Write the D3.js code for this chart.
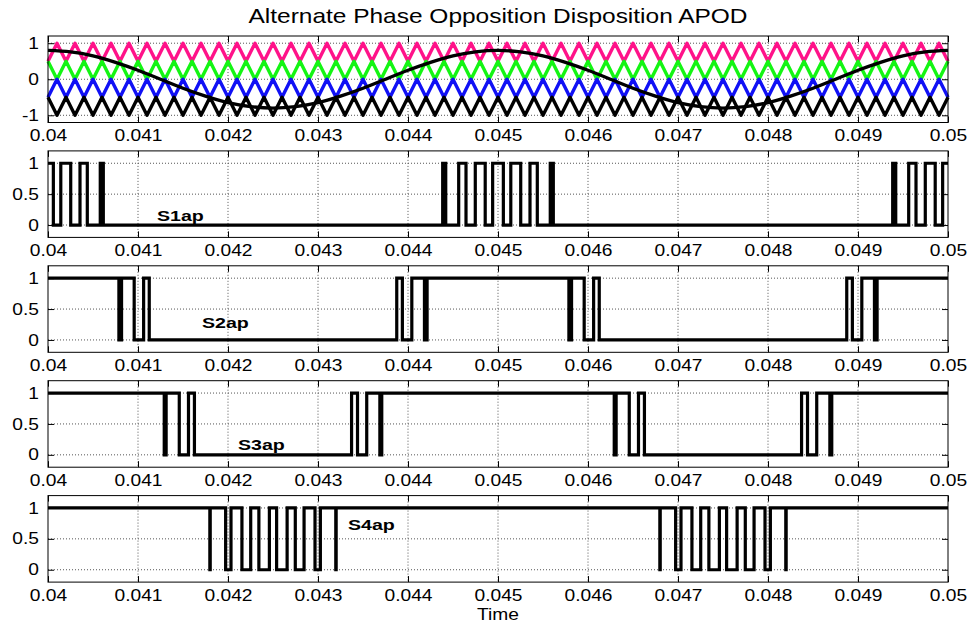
<!DOCTYPE html>
<html>
<head>
<meta charset="utf-8">
<script src="https://cdn.jsdelivr.net/npm/d3@7"></script>
<style>
  body { margin: 0; background: #fff; }
  svg { display: block; }
  text { font-family: "Liberation Sans", Arial, Helvetica, sans-serif; fill: #000; }
</style>
</head>
<body>
<div id="chart"></div>
<script>
// ---- data ----
const titleText = "Alternate Phase Opposition Disposition APOD";
const timeTicks = [0.04, 0.041, 0.042, 0.043, 0.044, 0.045, 0.046, 0.047, 0.048, 0.049, 0.05];
const timeTickLabels = ["0.04", "0.041", "0.042", "0.043", "0.044", "0.045", "0.046", "0.047", "0.048", "0.049", "0.05"];
const refTicks = [-1, 0, 1];
const switchTicks = [0, 0.5, 1];
const switchTickLabels = ["0", "0.5", "1"];

// carrier bands (high, low) and colours, top to bottom
const carrierBands = [[1, 0.5], [0.5, 0], [0, -0.5], [-0.5, -1]];
const carrierColors = ["#ff1289", "#14f514", "#1010f5", "#000000"];
// turning points of the carriers; the top one is at its valley at 0.04
const carrierTurns = [
  0.0400, 0.0401, 0.0402, 0.0403, 0.0404, 0.0405, 0.0406, 0.0407, 0.0408, 0.0409,
  0.0410, 0.0411, 0.0412, 0.0413, 0.0414, 0.0415, 0.0416, 0.0417, 0.0418, 0.0419,
  0.0420, 0.0421, 0.0422, 0.0423, 0.0424, 0.0425, 0.0426, 0.0427, 0.0428, 0.0429,
  0.0430, 0.0431, 0.0432, 0.0433, 0.0434, 0.0435, 0.0436, 0.0437, 0.0438, 0.0439,
  0.0440, 0.0441, 0.0442, 0.0443, 0.0444, 0.0445, 0.0446, 0.0447, 0.0448, 0.0449,
  0.0450, 0.0451, 0.0452, 0.0453, 0.0454, 0.0455, 0.0456, 0.0457, 0.0458, 0.0459,
  0.0460, 0.0461, 0.0462, 0.0463, 0.0464, 0.0465, 0.0466, 0.0467, 0.0468, 0.0469,
  0.0470, 0.0471, 0.0472, 0.0473, 0.0474, 0.0475, 0.0476, 0.0477, 0.0478, 0.0479,
  0.0480, 0.0481, 0.0482, 0.0483, 0.0484, 0.0485, 0.0486, 0.0487, 0.0488, 0.0489,
  0.0490, 0.0491, 0.0492, 0.0493, 0.0494, 0.0495, 0.0496, 0.0497, 0.0498, 0.0499, 0.0500];

// modulating wave samples
const sineTimes = [0.04, 0.04025, 0.0405, 0.04075, 0.041, 0.04125, 0.0415, 0.04175, 0.042, 0.04225,
  0.0425, 0.04275, 0.043, 0.04325, 0.0435, 0.04375, 0.044, 0.04425, 0.0445, 0.04475,
  0.045, 0.04525, 0.0455, 0.04575, 0.046, 0.04625, 0.0465, 0.04675, 0.047, 0.04725,
  0.0475, 0.04775, 0.048, 0.04825, 0.0485, 0.04875, 0.049, 0.04925, 0.0495, 0.04975, 0.05];
const sineValues = [0.80, 0.76, 0.65, 0.47, 0.25, 0.00, -0.25, -0.47, -0.65, -0.76,
  -0.80, -0.76, -0.65, -0.47, -0.25, 0.00, 0.25, 0.47, 0.65, 0.76,
  0.80, 0.76, 0.65, 0.47, 0.25, 0.00, -0.25, -0.47, -0.65, -0.76,
  -0.80, -0.76, -0.65, -0.47, -0.25, 0.00, 0.25, 0.47, 0.65, 0.76, 0.80];

// switching signals: starting level and the times where they toggle
const switchNames = ["S1ap", "S2ap", "S3ap", "S4ap"];
const switchStart = [1, 1, 1, 1];
const s1Edges = [0.0400595, 0.0401421, 0.0402524, 0.0403555, 0.0404367, 0.0405807, 0.0406146,
  0.0443854, 0.0444193, 0.0445633, 0.0446445, 0.0447476, 0.0448579, 0.0449405, 0.0450595,
  0.0451421, 0.0452524, 0.0453555, 0.0454367, 0.0455807, 0.0456146,
  0.0493854, 0.0494193, 0.0495633, 0.0496445, 0.0497476, 0.0498579, 0.0499405];
const s2Edges = [0.0407878, 0.0408172, 0.0409576, 0.0410625, 0.0411250,
  0.0438750, 0.0439375, 0.0440424, 0.0441828, 0.0442122,
  0.0457878, 0.0458172, 0.0459576, 0.0460625, 0.0461250,
  0.0488750, 0.0489375, 0.0490424, 0.0491828, 0.0492122];
const s3Edges = [0.0412916, 0.0413126, 0.0414586, 0.0415610, 0.0416270,
  0.0433730, 0.0434390, 0.0435414, 0.0436874, 0.0437084,
  0.0462916, 0.0463126, 0.0464586, 0.0465610, 0.0466270,
  0.0483730, 0.0484390, 0.0485414, 0.0486874, 0.0487084];
const s4Edges = [0.0417983, 0.0418024, 0.0419737, 0.0420333, 0.0421548, 0.0422523, 0.0423431, 0.0424598,
  0.0425402, 0.0426569, 0.0427477, 0.0428452, 0.0429667, 0.0430263, 0.0431976, 0.0432017,
  0.0467983, 0.0468024, 0.0469737, 0.0470333, 0.0471548, 0.0472523, 0.0473431, 0.0474598,
  0.0475402, 0.0476569, 0.0477477, 0.0478452, 0.0479667, 0.0480263, 0.0481976, 0.0482017];
const switchEdges = [s1Edges, s2Edges, s3Edges, s4Edges];
// label anchor (time, value) for each switching signal
const labelTimes = [0.041211, 0.041711, 0.042111, 0.043333];
const labelValues = [0.065, 0.2, 0.08, 0.65];

// ---- layout ----
const width = 974, height = 625;
const left = 48, right = 948;
const firstTop = 36, panelStep = 114.9, panelH = 86.5;
const font = 16, stretch = 1.2;

const svg = d3.select("#chart").append("svg")
  .attr("width", width).attr("height", height);

const x = d3.scaleLinear().domain([0.04, 0.05]).range([left, right]);

svg.append("text")
  .attr("transform", `translate(${(left + right) / 2},23) scale(${stretch},1)`)
  .attr("text-anchor", "middle")
  .style("font-size", "20.4px")
  .text(titleText);

// stretch tick text horizontally like the original figure
function stretchText(sel) {
  sel.selectAll(".tick text").each(function () {
    const t = d3.select(this);
    const tx = +t.attr("x") || 0, ty = +t.attr("y") || 0;
    t.attr("x", 0).attr("y", 0)
      .attr("transform", `translate(${tx},${ty}) scale(${stretch},1)`)
      .style("font-size", font + "px")
      .attr("fill", "#000");
  });
}

function makePanel(i, yDomain, yTicks, yLabels) {
  const top = firstTop + i * panelStep, bottom = top + panelH;
  const y = d3.scaleLinear().domain(yDomain).range([bottom, top]);
  const g = svg.append("g");

  // dotted grid
  g.append("g").selectAll("line").data(timeTicks.slice(1, -1)).join("line")
    .attr("x1", d => x(d)).attr("x2", d => x(d))
    .attr("y1", top).attr("y2", bottom)
    .attr("stroke", "#555").attr("stroke-width", 1).attr("stroke-dasharray", "1,2");
  g.append("g").selectAll("line").data(yTicks).join("line")
    .attr("x1", left).attr("x2", right)
    .attr("y1", d => y(d)).attr("y2", d => y(d))
    .attr("stroke", "#555").attr("stroke-width", 1).attr("stroke-dasharray", "1,2");

  const plot = g.append("g");

  // axes with inward ticks
  const ax = g.append("g");
  const bottomAxis = ax.append("g").attr("transform", `translate(0,${bottom})`)
    .call(d3.axisBottom(x).tickValues(timeTicks).tickFormat((d, k) => timeTickLabels[k])
      .tickSizeInner(-6).tickSizeOuter(0).tickPadding(7.5));
  stretchText(bottomAxis);
  ax.append("g").attr("transform", `translate(0,${top})`)
    .call(d3.axisTop(x).tickValues(timeTicks).tickFormat("").tickSizeInner(-6).tickSizeOuter(0));
  const leftAxis = ax.append("g").attr("transform", `translate(${left},0)`)
    .call(d3.axisLeft(y).tickValues(yTicks).tickFormat((d, k) => yLabels[k])
      .tickSizeInner(-6).tickSizeOuter(0).tickPadding(9));
  stretchText(leftAxis);
  ax.append("g").attr("transform", `translate(${right},0)`)
    .call(d3.axisRight(y).tickValues(yTicks).tickFormat("").tickSizeInner(-6).tickSizeOuter(0));
  ax.selectAll(".domain").remove();
  ax.selectAll(".tick line").attr("stroke", "#000");
  g.append("rect").attr("x", left).attr("y", top)
    .attr("width", right - left).attr("height", bottom - top)
    .attr("fill", "none").attr("stroke", "#000").attr("stroke-width", 1);

  return { plot, y };
}

// ---- panel 1: carriers and reference ----
const p1 = makePanel(0, [-1.2, 1.2], refTicks, refTicks.map(String));
const line1 = d3.line().x(d => x(d[0])).y(d => p1.y(d[1]));

carrierBands.forEach((band, c) => {
  // neighbouring carriers are in phase opposition
  const pts = carrierTurns.map((t, k) => {
    const high = (k % 2 === 1) !== (c % 2 === 1);
    return [t, high ? band[0] : band[1]];
  });
  p1.plot.append("path").datum(pts)
    .attr("d", line1).attr("fill", "none")
    .attr("stroke", carrierColors[c]).attr("stroke-width", 3.4)
    .attr("stroke-linejoin", "round");
});

p1.plot.append("path").datum(sineTimes.map((t, k) => [t, sineValues[k]]))
  .attr("d", d3.line().x(d => x(d[0])).y(d => p1.y(d[1])).curve(d3.curveNatural))
  .attr("fill", "none")
  .attr("stroke", "#000").attr("stroke-width", 3.4);

// ---- panels 2-5: switching pulses ----
switchNames.forEach((name, s) => {
  const p = makePanel(s + 1, [-0.2, 1.2], switchTicks, switchTickLabels);
  let level = switchStart[s];
  const pts = [[0.04, level]];
  switchEdges[s].forEach(t => {
    pts.push([t, level]);
    level = 1 - level;
    pts.push([t, level]);
  });
  pts.push([0.05, level]);
  p.plot.append("path").datum(pts)
    .attr("d", d3.line().x(d => x(d[0])).y(d => p.y(d[1])))
    .attr("fill", "none").attr("stroke", "#000").attr("stroke-width", 3.2)
    .attr("stroke-linejoin", "miter");
  p.plot.append("text")
    .attr("transform", `translate(${x(labelTimes[s])},${p.y(labelValues[s])}) scale(1.4,1)`)
    .style("font-size", "14px").style("font-weight", "bold")
    .text(name);
});

// x label
svg.append("text")
  .attr("transform", `translate(${(left + right) / 2},620) scale(${stretch},1)`)
  .attr("text-anchor", "middle").style("font-size", font + "px")
  .text("Time");
</script>
</body>
</html>
